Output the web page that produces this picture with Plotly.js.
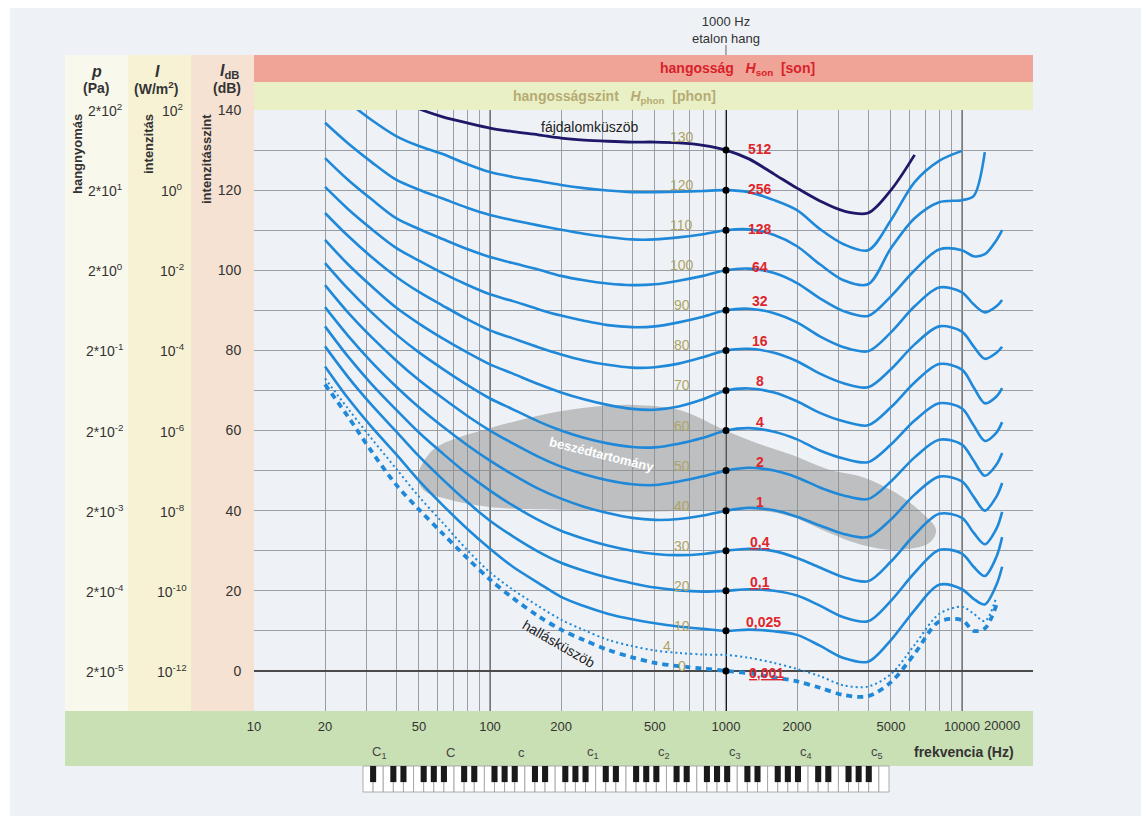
<!DOCTYPE html>
<html><head><meta charset="utf-8">
<script src="https://cdn.plot.ly/plotly-3.0.1.min.js"></script>
<style>html,body{margin:0;padding:0;background:#fff;}#chart{width:1141px;height:816px;}</style>
</head><body><div id="chart"></div>
<script>
// ---------------- DATA ----------------
const FREQ = [20,25,31.5,40,50,63,80,100,125,160,200,250,315,400,500,630,800,1000,1250,1600,2000,2500,3150,4000,5000,6300,8000,10000,11200,12500,14000,14800];

const PHON_0   = [71.5,63.5,54.8,46.5,40.3,34.3,28.2,22.8,18.2,13.7,10.3,7.7,5.3,3.4,2.0,1.2,0.6,0,-0.6,-1.6,-2.6,-4.2,-6.0,-6.3,-2.8,4.3,12.3,12.7,10.0,10.6,16.5,null];
const PHON_4   = [73,65.5,58,50.5,43.5,37,30.2,24.6,20.3,16.2,12.8,10.2,7.8,6.2,5.1,4.5,4.1,4,3.3,2.0,0.5,-1.3,-3.6,-3.9,-0.8,6.5,14.2,16.0,14.3,12.4,18.5,null];
const PHON_10  = [76,68.1,60.9,54.1,47.5,41.4,35.5,30.5,26,22,18.5,16.2,14.3,12.9,11.9,11.1,10.5,10,10.3,9.9,9.0,6.3,3.2,2.3,7.7,15.2,21.5,20.4,18.0,16.6,21.5,26];
const PHON_20  = [81,73.4,66.4,59.8,53.6,47.8,42.2,37.5,33.6,29.8,27,25,23.3,21.9,20.8,20.1,19.8,20,20.4,20.0,18.8,16.3,13.4,12.4,17.5,24.5,30.2,29.3,26.0,23.7,28.5,33.4];
const PHON_30  = [86,78.5,71.6,65.2,59.5,54.3,49.2,45,41.3,37.7,35,33,31.3,30,29.2,28.9,29.2,30,30.5,29.9,28.2,25.8,23.4,22.4,27.3,34,39.2,38.2,34.5,31.6,35.5,39.7];
const PHON_40  = [90.8,83.7,77.1,71,65.8,61,56.4,52.5,49,45.5,43,41,39.4,38.2,37.7,37.9,38.8,40,40.7,40.1,38.5,36.3,34.2,33.4,37.8,44,48.5,47.3,43.5,40,43.5,46.9];
const PHON_50  = [96.3,89.5,83.3,77.5,72.6,68.1,63.7,60,56.8,53.5,51,49.1,47.6,46.6,46.4,47.3,48.6,50,50.7,50,48.3,45.8,43.8,42.9,47.3,53.3,57.7,56.5,52.5,48.7,51.5,54.4];
const PHON_60  = [101.8,95.4,89.5,84,79.5,75.4,71.4,68,65.3,62.3,60,58.2,56.8,55.9,55.8,56.7,58.2,60,60.6,59.7,57.8,55,53,52.1,56.5,62.5,66.8,65.5,61.3,57.4,59.5,62.1];
const PHON_70  = [107.6,101.5,96,90.7,86.7,83,79.5,76.5,74.2,71.6,69.5,67.8,66.4,65.4,65.2,66,67.8,70,70.5,69.5,67.3,64.4,62.3,61.3,65.8,72,76.6,75.2,70.8,66.8,68.5,70.6];
const PHON_80  = [114.3,108.6,103.3,98.4,94.6,91.2,87.8,85,83,80.8,79,77.5,76.4,75.7,75.8,76.7,78.3,80,80.4,79.4,77.3,74.2,71.8,70.8,75.3,81.5,86,84.7,81,77.9,79.4,80.9];
const PHON_90  = [120.8,115.3,110.3,105.6,102.4,99.3,96.4,94,92.3,90.3,88.7,87.4,86.3,85.8,86,87,88.4,90,90.4,89.3,87,83.5,80.8,79.8,84.5,91,95.7,94.5,91.5,89.5,91,92.6];
const PHON_100 = [128,122.6,117.7,113,110.3,107.8,105.3,103.3,101.8,100.2,98.6,97.5,96.7,96.3,96.5,97.4,98.6,100,100.4,99.3,96.8,93,89.8,88.6,93.5,100,105.2,105,103.5,104,107.5,110];
const PHON_110 = [136.8,131.7,127,122.6,120.1,117.9,115.6,113.8,112.5,111.2,110.1,109.1,108.3,107.7,107.7,108.2,109,110,110.2,108.8,106,101.5,97.5,96.5,105.5,113,117,117.5,118.5,129.5,null,null];
const PHON_120 = [null,142,137.5,133.5,131,129,126.5,124.5,123.3,122.3,121.3,120.5,119.9,119.5,119.5,119.6,119.8,120,119.5,117.5,115,110.3,106.5,105,112.5,122,127.3,129.8,null,null,null,null];
const PAIN_130 = [null,null,null,143,140.3,138.3,136.8,135.5,134.6,133.8,133,132.5,132.2,132,132,131.8,131.2,130,127.8,124,120.5,117.3,114.8,114.3,120,128.8,null,null,null,null,null,null];

const SOLID_CURVES = [PHON_10,PHON_20,PHON_30,PHON_40,PHON_50,PHON_60,PHON_70,PHON_80,PHON_90,PHON_100,PHON_110,PHON_120];

const SPEECH_F  = [49.6,57.4,74.7,100,152,247,402,636,948,1346,1911,2741,3779,5261,6777,7766,7256,5261,3779,2741,1911,1346,940,402,212,100,67.8,52.1,49.6];
const SPEECH_DB = [48.9,55.2,58.4,60.6,63.4,65.6,66.4,65.1,60.6,56.9,53.9,50.2,48.4,44.4,39.4,35.2,31.9,30.2,31.4,34.4,38.4,40.2,40.2,39.7,40.2,40.9,42.7,45.2,48.9];

const DOT_LEVELS  = [0,10,20,30,40,50,60,70,80,90,100,110,120,130];
const SON_LABELS  = ['0,001','0,025','0,1','0,4','1','2','4','8','16','32','64','128','256','512'];
const PHON_LABEL_LEVELS = [0,4,10,20,30,40,50,60,70,80,90,100,110,120,130];

const GRID_F   = [10,20,30,40,50,60,70,80,90,100,200,300,400,500,600,700,800,900,1000,2000,3000,4000,5000,6000,7000,8000,9000,10000,20000];
const LABEL_F  = [10,20,50,100,200,500,1000,2000,5000,10000];
const MAJOR_F  = [100,1000,10000];

const DB_TICKS   = [140,120,100,80,60,40,20,0];
const PA_LABELS  = ['2*10<sup>2</sup>','2*10<sup>1</sup>','2*10<sup>0</sup>','2*10<sup>-1</sup>','2*10<sup>-2</sup>','2*10<sup>-3</sup>','2*10<sup>-4</sup>','2*10<sup>-5</sup>'];
const INT_LABELS = ['10<sup>2</sup>','10<sup>0</sup>','10<sup>-2</sup>','10<sup>-4</sup>','10<sup>-6</sup>','10<sup>-8</sup>','10<sup>-10</sup>','10<sup>-12</sup>'];

const NOTE_F     = [32.7,65.4,130.8,261.6,523.3,1046.5,2093,4186];
const NOTE_NAMES = ['C<sub>1</sub>','C','c','c<sub>1</sub>','c<sub>2</sub>','c<sub>3</sub>','c<sub>4</sub>','c<sub>5</sub>'];

// ---------------- LAYOUT HELPERS ----------------
const W = 1141, H = 816;
const M = {l:254, r:108, t:110, b:105};
const PW = W - M.l - M.r, PH = H - M.t - M.b;
const px = v => (v - M.l) / PW;
const py = v => (H - M.b - v) / PH;
const lg = f => Math.log10(f);   // annotations on a log axis take log10 positions
const FONT = 'Liberation Sans, Arial, sans-serif';
const BLUE = '#1f88d8';
const GRID = '#999ea4';

// ---------------- TRACES ----------------
const traces = [];
traces.push({x:SPEECH_F, y:SPEECH_DB, mode:'lines', fill:'toself', fillcolor:'rgba(140,140,140,0.5)',
  line:{width:0, shape:'spline', smoothing:1}, hoverinfo:'skip', showlegend:false});

SOLID_CURVES.forEach(c => traces.push({x:FREQ, y:c, mode:'lines', line:{color:BLUE, width:2.6, shape:'spline', smoothing:0.9}, showlegend:false}));
traces.push({x:FREQ, y:PHON_4, mode:'lines', line:{color:BLUE, width:2, dash:'2px,3px', shape:'spline', smoothing:0.9}, showlegend:false});
traces.push({x:FREQ, y:PHON_0, mode:'lines', line:{color:BLUE, width:3.8, dash:'6px,5px', shape:'spline', smoothing:0.9}, showlegend:false});
traces.push({x:FREQ, y:PAIN_130, mode:'lines', line:{color:'#1e1868', width:2.8, shape:'spline', smoothing:0.9}, showlegend:false});
traces.push({x:DOT_LEVELS.map(() => 1000), y:DOT_LEVELS, mode:'markers', marker:{color:'#000', size:7}, showlegend:false});

// ---------------- SHAPES ----------------
const shapes = [];
const rect = (x0,x1,y0,y1,color) => ({type:'rect', xref:'paper', yref:'paper', x0:px(x0), x1:px(x1), y0:py(y1), y1:py(y0), fillcolor:color, line:{width:0}, layer:'below'});
shapes.push(rect(10,1141,8,816,'#eef2f6'));
shapes.push(rect(65,128,55,711,'#f9f8ec'));
shapes.push(rect(128,191,55,711,'#f8f2d5'));
shapes.push(rect(191,254,55,711,'#f5e2d2'));
shapes.push(rect(254,1033,55,82,'#f0a498'));
shapes.push(rect(254,1033,82,110,'#e9f0c6'));
shapes.push(rect(65,1033,711,766,'#c9e0b4'));
MAJOR_F.forEach(f => shapes.push({type:'line', xref:'x', yref:'paper', x0:f, x1:f, y0:0, y1:1, layer:'between',
  line:{color: f === 1000 ? '#111' : '#4a4a4a', width: f === 1000 ? 2 : 1.5}}));
shapes.push({type:'line', xref:'x', yref:'paper', x0:1000, x1:1000, y0:py(55), y1:py(45), line:{color:'#666', width:1}});

// piano keyboard (decoration)
const PX0 = px(363), PX1 = px(889), PY0 = py(792), PY1 = py(766);
const NWHITE = 52, kw = (PX1 - PX0) / NWHITE, LETTERS = 'ABCDEFG';
for (let i = 0; i < NWHITE; i++) shapes.push({type:'rect', xref:'paper', yref:'paper', x0:PX0 + i*kw, x1:PX0 + (i+1)*kw, y0:PY0, y1:PY1, fillcolor:'#ffffff', line:{color:'#9a9a9a', width:0.8}});
for (let i = 0; i < NWHITE - 1; i++) {
  if ('ACDFG'.includes(LETTERS[i % 7])) {
    const cx = PX0 + (i+1)*kw;
    shapes.push({type:'rect', xref:'paper', yref:'paper', x0:cx - kw*0.3, x1:cx + kw*0.3, y0:PY0 + (PY1-PY0)*0.38, y1:PY1, fillcolor:'#1a1a1a', line:{width:0}});
  }
}

// ---------------- ANNOTATIONS ----------------
const ann = [];
const txt = (o) => Object.assign({showarrow:false, xanchor:'center', yanchor:'middle', font:{family:FONT, size:13, color:'#333'}}, o);

// left columns tick labels
DB_TICKS.forEach((d,i) => {
  ann.push(txt({xref:'paper', yref:'y', x:px(105), y:d, text:PA_LABELS[i], font:{family:FONT, size:14, color:'#333'}}));
  ann.push(txt({xref:'paper', yref:'y', x:px(172), y:d, text:INT_LABELS[i], font:{family:FONT, size:14, color:'#333'}}));
});
// column headers
ann.push(txt({xref:'paper', yref:'paper', x:px(96), y:py(71), text:'<b><i>p</i></b>', font:{family:FONT, size:16, color:'#333'}}));
ann.push(txt({xref:'paper', yref:'paper', x:px(96), y:py(88), text:'<b>(Pa)</b>', font:{family:FONT, size:14, color:'#333'}}));
ann.push(txt({xref:'paper', yref:'paper', x:px(157), y:py(71), text:'<b><i>I</i></b>', font:{family:FONT, size:16, color:'#333'}}));
ann.push(txt({xref:'paper', yref:'paper', x:px(156), y:py(88), text:'<b>(W/m<sup>2</sup>)</b>', font:{family:FONT, size:14, color:'#333'}}));
ann.push(txt({xref:'paper', yref:'paper', x:px(229), y:py(71), text:'<b><i>I</i><sub>dB</sub></b>', font:{family:FONT, size:16, color:'#333'}}));
ann.push(txt({xref:'paper', yref:'paper', x:px(227), y:py(88), text:'<b>(dB)</b>', font:{family:FONT, size:14, color:'#333'}}));
// rotated column titles
ann.push(txt({xref:'paper', yref:'paper', x:px(77), y:py(112), yanchor:'top', textangle:-90, text:'<b>hangnyomás</b>', font:{family:FONT, size:13, color:'#333'}}));
ann.push(txt({xref:'paper', yref:'paper', x:px(148), y:py(112), yanchor:'top', textangle:-90, text:'<b>intenzitás</b>', font:{family:FONT, size:13, color:'#333'}}));
ann.push(txt({xref:'paper', yref:'paper', x:px(206), y:py(112), yanchor:'top', textangle:-90, text:'<b>intenzitásszint</b>', font:{family:FONT, size:13, color:'#333'}}));

// header bands
ann.push(txt({xref:'paper', yref:'paper', x:px(737), y:py(69), text:'<b>hangosság   <i>H</i><sub>son</sub>  [son]</b>', font:{family:FONT, size:14, color:'#d8222a'}}));
ann.push(txt({xref:'paper', yref:'paper', x:px(614), y:py(97), text:'<b>hangosságszint   <i>H</i><sub>phon</sub>  [phon]</b>', font:{family:FONT, size:14, color:'#b6ab74'}}));
ann.push(txt({xref:'x', yref:'paper', x:lg(1000), y:py(30), text:'1000 Hz<br>etalon hang', font:{family:FONT, size:13, color:'#333'}}));

// x extra label and notes
ann.push(txt({xref:'x', yref:'paper', x:lg(14800), y:py(725), text:'20000'}));
NOTE_F.forEach((f,i) => ann.push(txt({xref:'x', yref:'paper', x:lg(f), xshift:4, y:py(752), text:NOTE_NAMES[i], font:{family:FONT, size:13, color:'#444'}})));
ann.push(txt({xref:'paper', yref:'paper', x:px(964), y:py(752), text:'<b>frekvencia (Hz)</b>', font:{family:FONT, size:14, color:'#333'}}));

// phon labels
PHON_LABEL_LEVELS.forEach(l => ann.push(txt({xref:'x', yref:'y', x:lg(1000), y:l,
  xshift: l === 4 ? -59 : -44, yshift: l === 130 ? 13 : (l === 4 ? 9 : 5),
  text:String(l), font:{family:FONT, size:14, color:'#b0a464'}})));
// son labels
DOT_LEVELS.forEach((l,i) => {
  const s = SON_LABELS[i];
  const under = (s === '0,4' || s === '0,1' || s === '0,001');
  ann.push(txt({xref:'x', yref:'y', x:lg(1000), y:l,
    xshift: s === '0,001' ? 41 : (s === '0,025' ? 38 : 34),
    yshift: l >= 110 ? 1 : (l === 100 ? 3 : (l === 0 ? -2 : 9)),
    text: under ? '<b><span style="text-decoration:underline">' + s + '</span></b>' : '<b>' + s + '</b>',
    font:{family:FONT, size:14, color:'#e0262b'}}));
});

// curve names
ann.push(txt({xref:'x', yref:'y', x:lg(265), y:135.7, text:'fájdalomküszöb', font:{family:FONT, size:14, color:'#222'}}));
ann.push(txt({xref:'x', yref:'y', x:lg(196), y:6.6, textangle:30, text:'hallásküszöb', font:{family:FONT, size:14, color:'#222'}}));
ann.push(txt({xref:'x', yref:'y', x:lg(298), y:54.1, textangle:14, text:'<b>beszédtartomány</b>', font:{family:FONT, size:13, color:'#ffffff'}}));

// ---------------- LAYOUT ----------------
const layout = {
  width:W, height:H, margin:{l:M.l, r:M.r, t:M.t, b:M.b, pad:0},
  paper_bgcolor:'#ffffff', plot_bgcolor:'#eff4f9', showlegend:false,
  font:{family:FONT, size:13, color:'#333'},
  xaxis:{type:'log', range:[1, Math.log10(20000)], tickvals:GRID_F,
    ticktext:GRID_F.map(f => LABEL_F.includes(f) ? String(f) : ''),
    showgrid:true, gridcolor:GRID, gridwidth:1, zeroline:false, showline:false,
    ticks:'outside', ticklen:3, tickcolor:'rgba(0,0,0,0)', tickfont:{family:FONT, size:13, color:'#333'}, fixedrange:true},
  yaxis:{range:[-10,140], tickvals:[0,10,20,30,40,50,60,70,80,90,100,110,120,130,140],
    ticktext:[0,10,20,30,40,50,60,70,80,90,100,110,120,130,140].map(v => v % 20 === 0 ? String(v) : ''),
    showgrid:true, gridcolor:GRID, gridwidth:1, zeroline:true, zerolinecolor:'#4a4a4a', zerolinewidth:1.5,
    showline:false, ticks:'outside', ticklen:9, tickcolor:'rgba(0,0,0,0)', tickfont:{family:FONT, size:14, color:'#333'}, fixedrange:true},
  shapes:shapes, annotations:ann
};

Plotly.newPlot('chart', traces, layout, {displayModeBar:false, staticPlot:true});
</script>
</body></html>
